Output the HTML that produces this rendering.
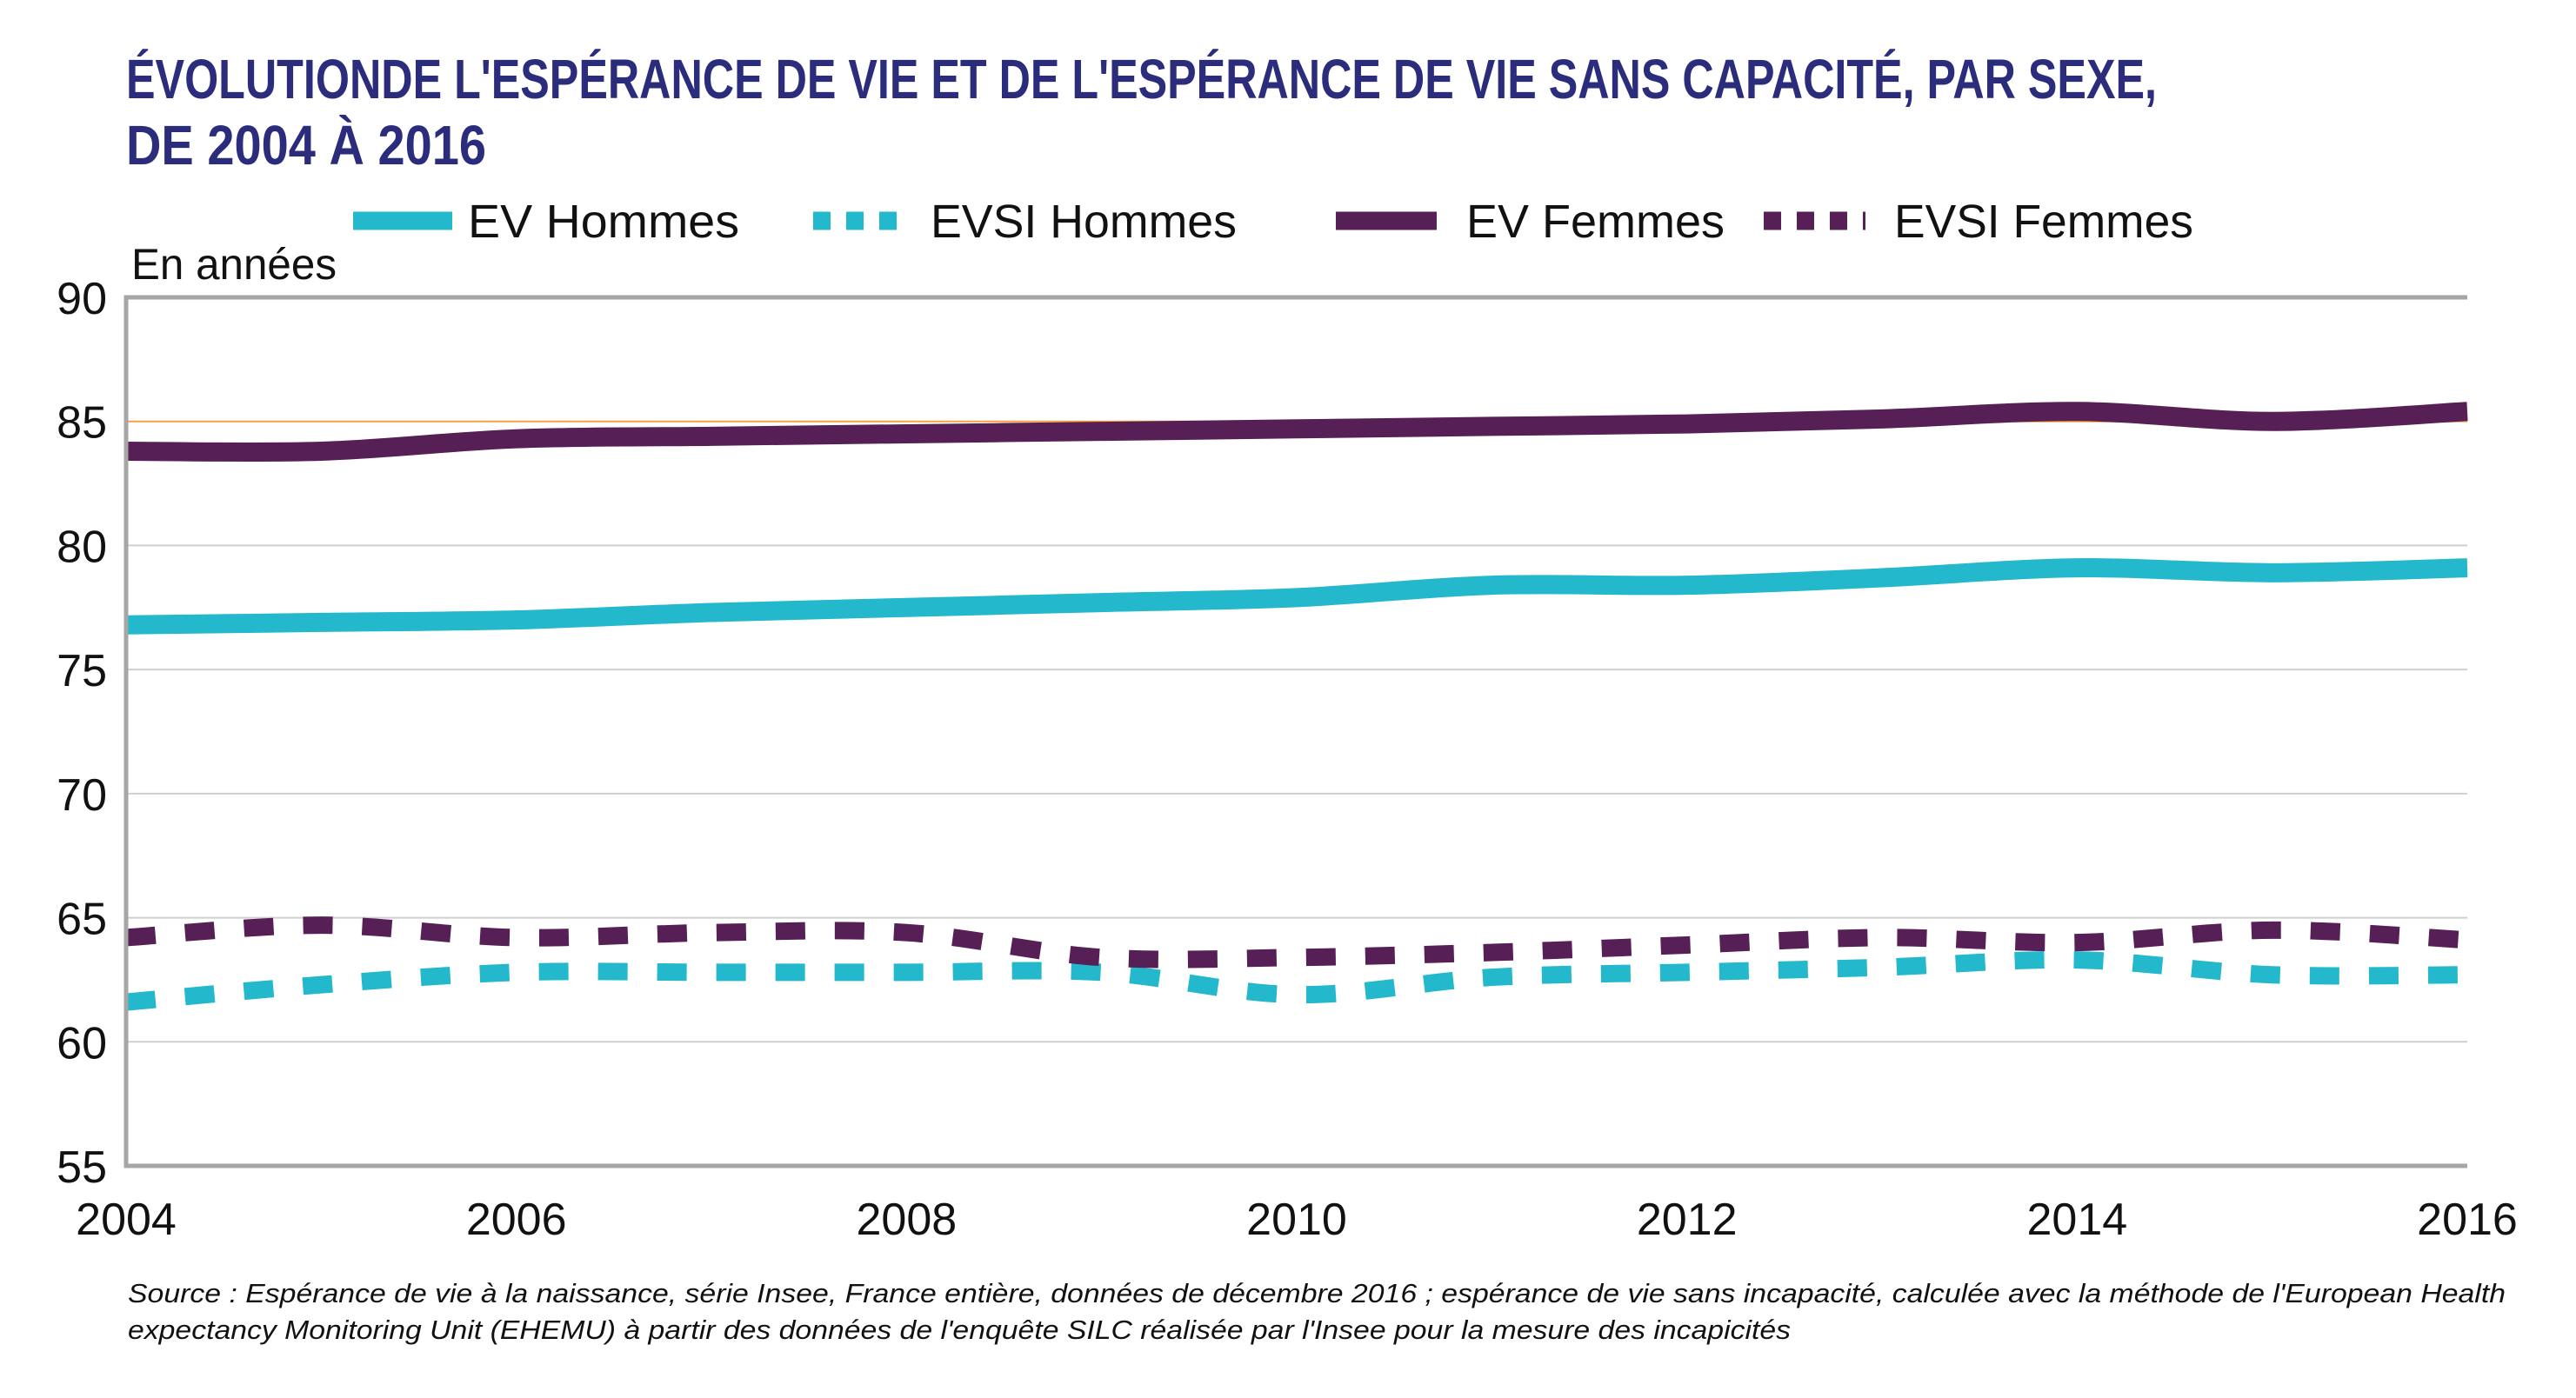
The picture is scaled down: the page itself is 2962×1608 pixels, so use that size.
<!DOCTYPE html>
<html><head><meta charset="utf-8"><style>
html,body{margin:0;padding:0;background:#fff;}
svg{display:block;}
text{font-family:"Liberation Sans",sans-serif;}
</style></head><body>
<svg id="chart" width="2962" height="1608" viewBox="0 0 2962 1608" xmlns="http://www.w3.org/2000/svg">
<g fill="#2b2d7c" font-weight="bold">
<text x="145" y="113" font-size="64" textLength="2335" lengthAdjust="spacingAndGlyphs">ÉVOLUTIONDE L'ESPÉRANCE DE VIE ET DE L'ESPÉRANCE DE VIE SANS CAPACITÉ, PAR SEXE,</text>
<text x="145" y="189" font-size="64" textLength="414" lengthAdjust="spacingAndGlyphs">DE 2004 À 2016</text>
</g>
<g id="legend" font-size="54" fill="#111"></g>
<text x="151" y="321" font-size="50" textLength="236" lengthAdjust="spacingAndGlyphs" fill="#111">En années</text>
<g id="grid"></g>
<g id="series"></g>
<g id="axes"></g>
<g font-size="31" font-style="italic" fill="#111">
<text x="147" y="1498" textLength="2734" lengthAdjust="spacingAndGlyphs">Source : Espérance de vie à la naissance, série Insee, France entière, données de décembre 2016 ; espérance de vie sans incapacité, calculée avec la méthode de l'European Health</text>
<text x="147" y="1540" textLength="1912" lengthAdjust="spacingAndGlyphs">expectancy Monitoring Unit (EHEMU) à partir des données de l'enquête SILC réalisée par l'Insee pour la mesure des incapicités</text>
</g>
</svg>
<script>
const years = [2004,2005,2006,2007,2008,2009,2010,2011,2012,2013,2014,2015,2016];
const evHommes = [76.8,76.9,77.0,77.3,77.5,77.7,77.9,78.4,78.4,78.7,79.1,78.9,79.1];
const evsiHommes = [61.6,62.3,62.8,62.8,62.8,62.8,61.9,62.6,62.8,63.0,63.3,62.7,62.7];
const evFemmes = [83.8,83.8,84.3,84.4,84.5,84.6,84.7,84.8,84.9,85.1,85.4,85.0,85.4];
const evsiFemmes = [64.2,64.7,64.2,64.4,64.4,63.4,63.4,63.6,63.9,64.2,64.0,64.5,64.1];
const yTicks = [55,60,65,70,75,80,85,90];
const xTickLabels = ["2004","2006","2008","2010","2012","2014","2016"];

const NS="http://www.w3.org/2000/svg";
const X0=145,X1=2837,Y90=342,Y55=1341;
const xs = y => X0+(y-2004)/(2016-2004)*(X1-X0);
const ys = v => Y55-(v-55)/(90-55)*(Y55-Y90);
function mk(tag,attrs,parent){const e=document.createElementNS(NS,tag);for(const k in attrs)e.setAttribute(k,attrs[k]);parent.appendChild(e);return e;}

const grid=document.getElementById('grid');
yTicks.forEach(v=>{
  if(v>55&&v<90){
    const l=mk('line',{x1:X0,x2:X1,y1:ys(v),y2:ys(v),stroke:v===85?'#f4a340':'#cfcfcf','stroke-width':2},grid);
    
    
  }
  const t=mk('text',{x:123,y:ys(v)+19,'text-anchor':'end','font-size':52,fill:'#111'},grid);
  
  
  t.textContent=v;
});
xTickLabels.forEach(s=>{
  const yr=+s;
  const t=mk('text',{x:xs(yr),y:1420,'text-anchor':'middle','font-size':52,fill:'#111'},grid);
  
  
  t.textContent=s;
});
const axes=document.getElementById('axes');
const ax=mk('path',{d:`M${X1},${Y90} L${X0},${Y90} L${X0},${Y55} L${X1},${Y55}`,fill:'none',stroke:'#a6a6a6','stroke-width':5},axes);



function smooth(vals){
  const p=vals.map((v,i)=>[xs(years[i]),ys(v)]);
  let d=`M${p[0][0]},${p[0][1]}`;
  for(let i=0;i<p.length-1;i++){
    const p0=p[i-1]||p[i],p1=p[i],p2=p[i+1],p3=p[i+2]||p[i+1];
    const t=0.5/3;
    d+=` C${p1[0]+(p2[0]-p0[0])*t},${p1[1]+(p2[1]-p0[1])*t} ${p2[0]-(p3[0]-p1[0])*t},${p2[1]-(p3[1]-p1[1])*t} ${p2[0]},${p2[1]}`;
  }
  return d;
}
const ser=document.getElementById('series');
const defs=[
  ['line-ev-hommes',evHommes,'#23b8cb',null,22],
  ['line-evsi-hommes',evsiHommes,'#23b8cb','34 34',20],
  ['line-ev-femmes',evFemmes,'#561f55',null,22],
  ['line-evsi-femmes',evsiFemmes,'#561f55','34 34',20]
];
defs.forEach(([n,vals,c,dash,w])=>{
  const a={d:smooth(vals),fill:'none',stroke:c,'stroke-width':w};
  if(dash)a['stroke-dasharray']=dash;
  const p=mk('path',a,ser);
  
  
});

const leg=document.getElementById('legend');
const items=[
  ['legend-ev-hommes','#23b8cb',null,406,520,538,'EV Hommes',312],
  ['legend-evsi-hommes','#23b8cb','20 18',935,1049,1070,'EVSI Hommes',352],
  ['legend-ev-femmes','#561f55',null,1536,1652,1686,'EV Femmes',297],
  ['legend-evsi-femmes','#561f55','20 18',2028,2145,2178,'EVSI Femmes',344]
];
items.forEach(([n,c,dash,lx0,lx1,tx,label,tw])=>{
  const g=mk('g',{},leg);
  
  
  const a={x1:lx0,x2:lx1,y1:254,y2:254,stroke:c,'stroke-width':21};
  if(dash)a['stroke-dasharray']=dash;
  mk('line',a,g);
  const t=mk('text',{x:tx,y:273,textLength:tw,lengthAdjust:'spacingAndGlyphs'},g);
  t.textContent=label;
});
</script>
</body></html>
